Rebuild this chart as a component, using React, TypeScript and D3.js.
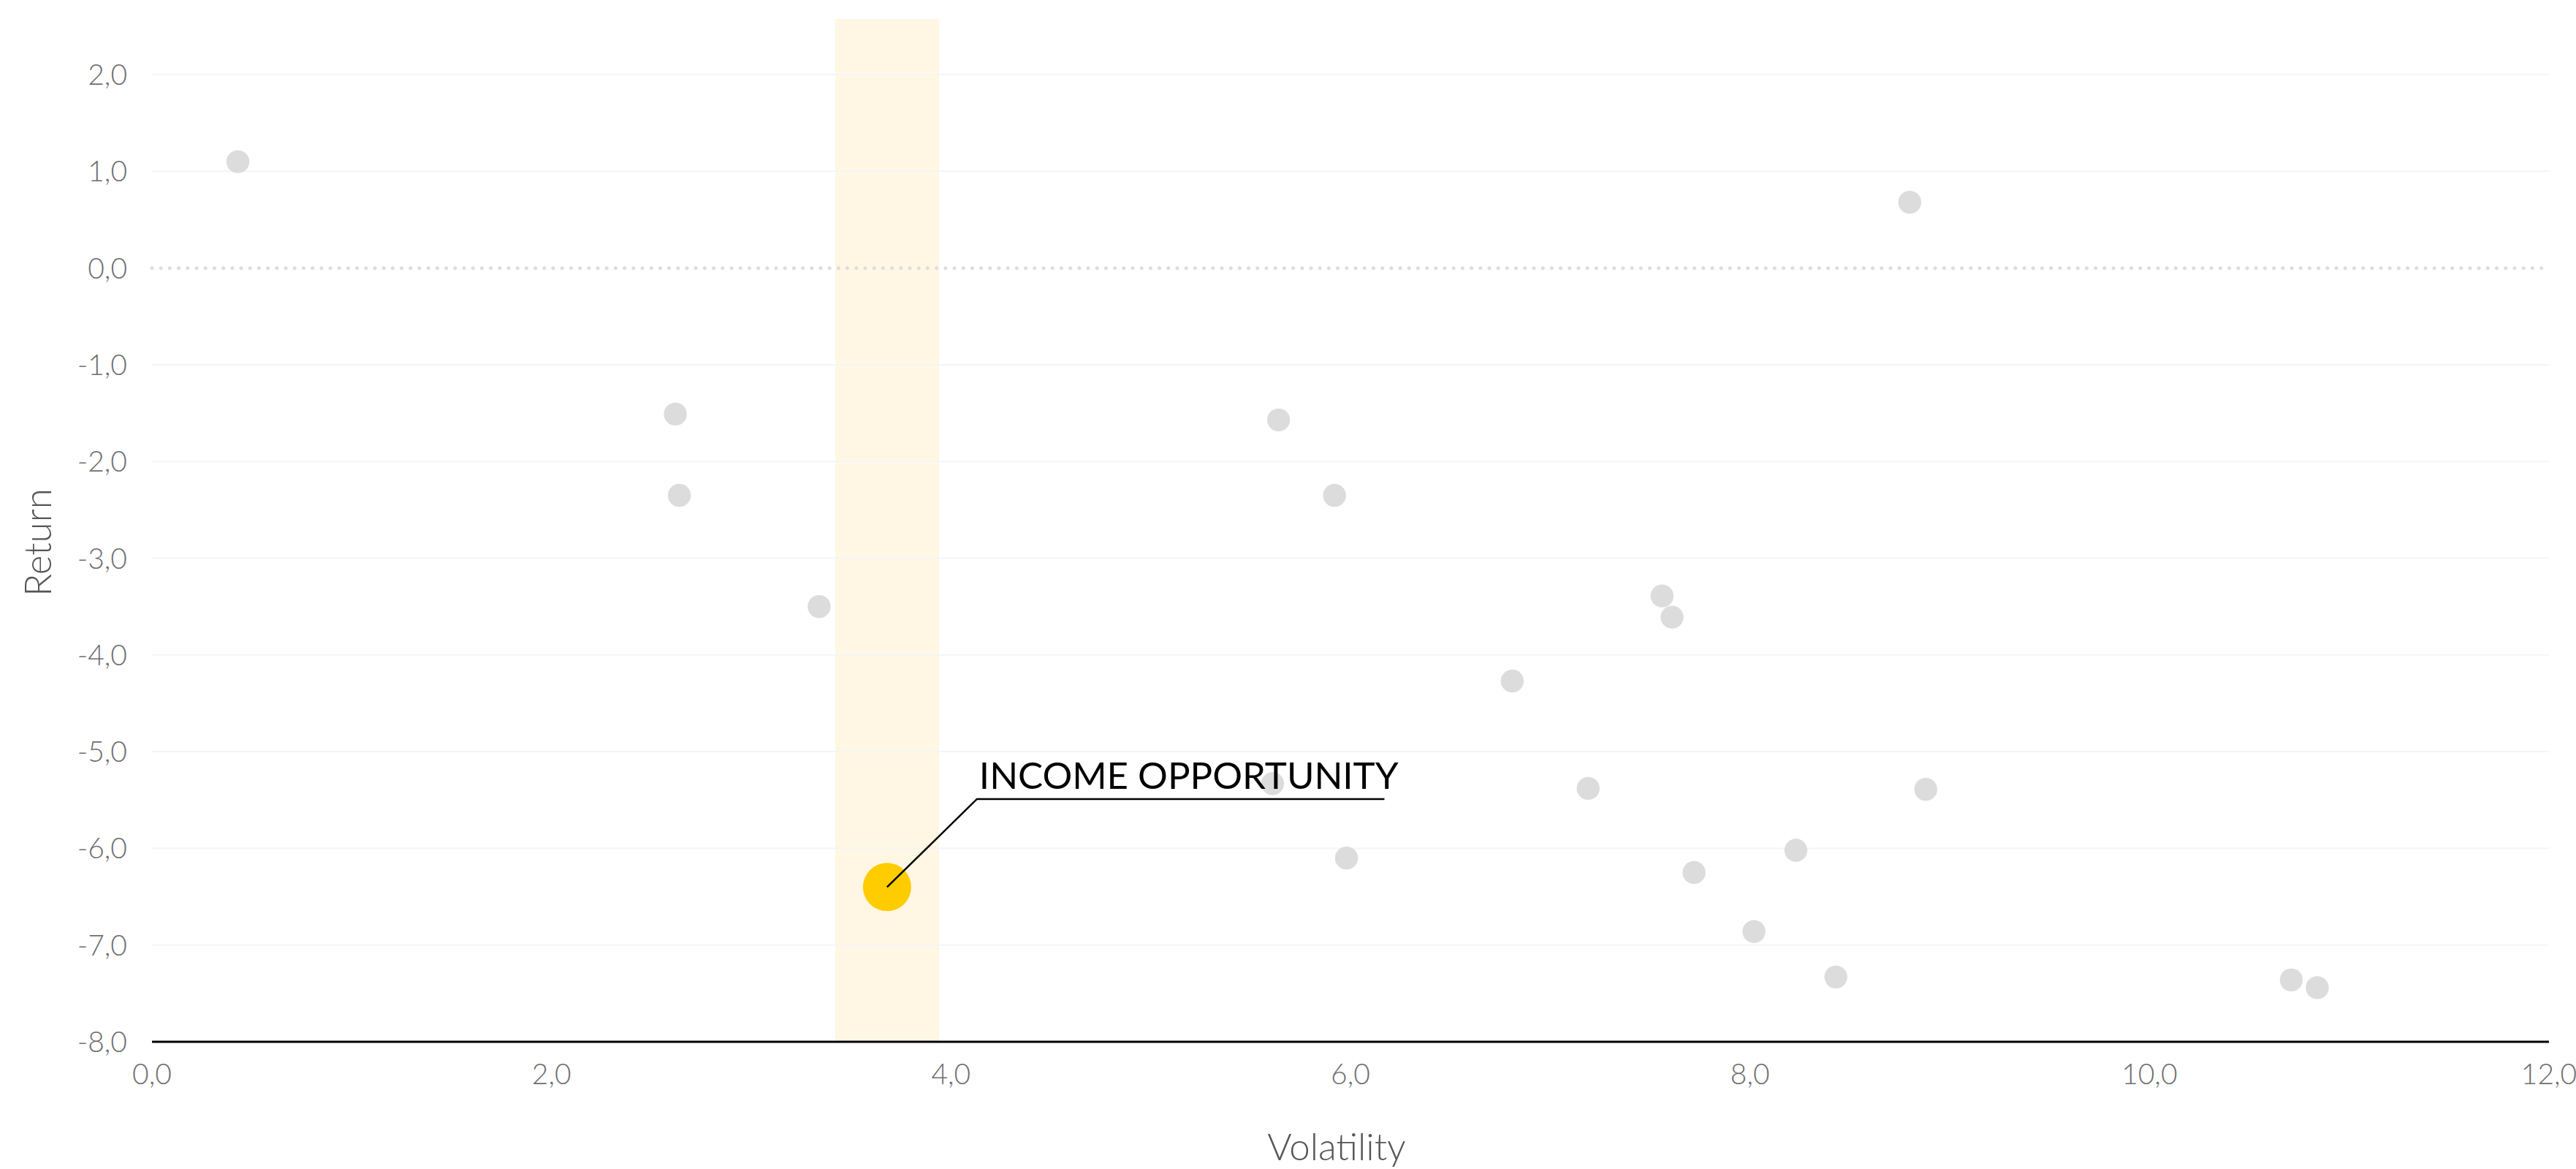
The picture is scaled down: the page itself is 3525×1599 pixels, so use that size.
import React from "react";
import * as d3 from "d3";

const volatility = [0.43, 2.62, 2.64, 3.34, 5.64, 5.92, 5.61, 5.98, 6.81, 7.19, 7.56, 7.61, 7.72, 8.02, 8.23, 8.43, 8.8, 8.88, 10.71, 10.84];
const returns = [1.1, -1.51, -2.35, -3.5, -1.57, -2.35, -5.33, -6.1, -4.27, -5.38, -3.39, -3.61, -6.25, -6.86, -6.02, -7.33, 0.68, -5.39, -7.36, -7.44];

const highlightVolatility = [3.68];
const highlightReturn = [-6.4];
const highlightBand = [3.42, 3.94];
const annotationText = ["INCOME OPPORTUNITY"];
const annotationElbow = [4.13, -5.49];
const annotationEnd = [6.17];

const xTicks = [0, 2, 4, 6, 8, 10, 12];
const yTicks = [2, 1, 0, -1, -2, -3, -4, -5, -6, -7, -8];
const xTitle = "Volatility";
const yTitle = "Return";

const W = 3525;
const H = 1599;

const locale = d3.formatLocale({ decimal: ",", thousands: ".", grouping: [3], currency: ["", ""], minus: "-" });
const fmt = locale.format(".1f");

export default function App() {
  const x = d3.scaleLinear().domain([0, 12]).range([208, 3488]);
  const y = d3.scaleLinear().domain([-8, 2.575]).range([1425, 26]);
  const font = "Lato, 'Open Sans', sans-serif";

  const ex = x(annotationElbow[0]);
  const ey = y(annotationElbow[1]);
  const hx = x(highlightVolatility[0]);
  const hy = y(highlightReturn[0]);
  const leader = d3.line()([
    [hx, hy],
    [ex, ey],
    [x(annotationEnd[0]), ey],
  ]);

  return (
    <div style={{ position: "absolute", left: 0, top: 0 }}>
      <svg width={W} height={H} style={{ display: "block", background: "#fff" }}>
        <rect
          x={x(highlightBand[0])}
          y={y.range()[1]}
          width={x(highlightBand[1]) - x(highlightBand[0])}
          height={y(-8) - y.range()[1]}
          fill="#FFF7E4"
        />
        {yTicks
          .filter((t) => t !== 0 && t !== -8)
          .map((t) => (
            <line key={t} x1={x(0)} x2={x(12)} y1={y(t)} y2={y(t)} stroke="#f5f5f5" strokeWidth={2} />
          ))}
        <line
          x1={x(0)}
          x2={x(12)}
          y1={y(0)}
          y2={y(0)}
          stroke="#dddddd"
          strokeWidth={5}
          strokeLinecap="round"
          strokeDasharray="0 12.2"
        />
        {yTicks.map((t) => (
          <text
            key={t}
            x={174}
            y={y(t)}
            dy="0.36em"
            textAnchor="end"
            fontFamily={font}
            fontWeight={300}
            fontSize={39}
            fill="#6e6e6e"
          >
            {fmt(t)}
          </text>
        ))}
        {xTicks.map((t) => (
          <text
            key={t}
            x={x(t)}
            y={1483}
            textAnchor="middle"
            fontFamily={font}
            fontWeight={300}
            fontSize={39}
            fill="#6e6e6e"
          >
            {fmt(t)}
          </text>
        ))}
        {volatility.map((v, i) => (
          <circle key={i} cx={x(v)} cy={y(returns[i])} r={15.7} fill="#dcdcdc" />
        ))}
        {highlightVolatility.map((v, i) => (
          <circle key={"h" + i} cx={x(v)} cy={y(highlightReturn[i])} r={33} fill="#FFCC00" />
        ))}
        <line x1={x(0)} x2={x(12)} y1={y(-8)} y2={y(-8)} stroke="#000" strokeWidth={3} />
        <path d={leader || ""} fill="none" stroke="#000" strokeWidth={2.5} />
        <text x={ex + 3} y={ey - 14} fontFamily={font} fontWeight={400} fontSize={51} fill="#000">
          {annotationText[0]}
        </text>
        <text
          x={1829}
          y={1587}
          textAnchor="middle"
          fontFamily={font}
          fontWeight={300}
          fontSize={51}
          fill="#555"
        >
          {xTitle}
        </text>
        <text
          transform={`translate(70, 742) rotate(-90)`}
          textAnchor="middle"
          fontFamily={font}
          fontWeight={300}
          fontSize={51}
          fill="#555"
        >
          {yTitle}
        </text>
      </svg>
    </div>
  );
}
